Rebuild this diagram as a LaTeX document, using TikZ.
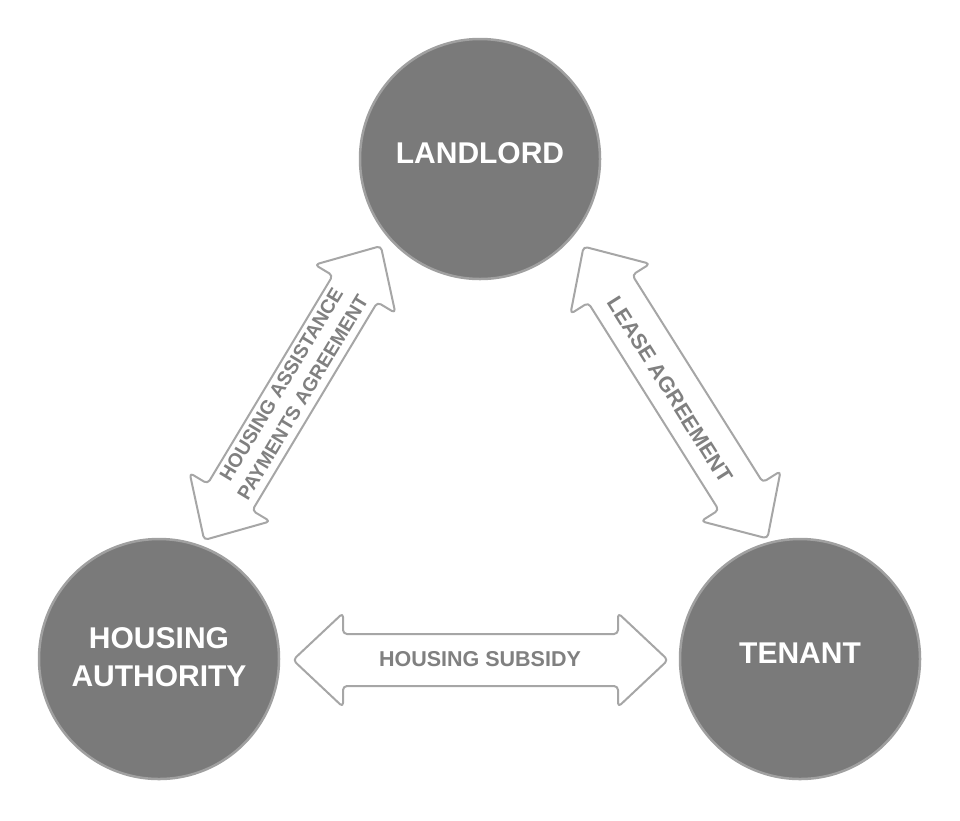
\documentclass[tikz,border=0pt]{standalone}
\usepackage{fontspec}
\setmainfont{Liberation Sans}
\definecolor{circfill}{RGB}{122,122,122}
\definecolor{circline}{RGB}{160,160,160}
\definecolor{arrline}{RGB}{166,166,166}
\definecolor{arrtext}{RGB}{128,128,128}
\newcommand{\blockarrow}[3]{%
  \begin{scope}[shift={#1}, rotate=#2]
    \draw[arrowbox] (-#3/2,0) -- (-#3/2+50,47) -- (-#3/2+50,26) -- (#3/2-50,26)
      -- (#3/2-50,47) -- (#3/2,0) -- (#3/2-50,-47) -- (#3/2-50,-26)
      -- (-#3/2+50,-26) -- (-#3/2+50,-47) -- cycle;
  \end{scope}}
\begin{document}
\begin{tikzpicture}[x=1pt,y=1pt,
  party/.style={circle, minimum size=240pt, inner sep=0pt, fill=circfill,
    draw=circline, line width=2.5pt},
  partytext/.style={text=white, align=center, inner sep=0pt,
    font=\fontsize{30}{38}\selectfont\bfseries},
  arrowbox/.style={draw=arrline, fill=white, line width=2pt, rounded corners=4pt, line join=round},
  arrlabel/.style={text=arrtext, align=center, inner sep=0pt}]
\useasboundingbox (0,0) rectangle (960,-820);
% parties
\node[party] (landlord) at (480,-159) {};
\node[party] (authority) at (159,-659) {};
\node[party] (tenant) at (800,-659) {};
\node[partytext] (landlordtxt) at ([yshift=6pt]landlord.center) {LANDLORD};
\node[partytext] (authoritytxt) at ([yshift=1.5pt]authority.center) {HOUSING\\AUTHORITY};
\node[partytext] (tenanttxt) at ([yshift=6pt]tenant.center) {TENANT};
% block arrows
\blockarrow{(292.5,-393)}{59}{343}
\blockarrow{(675.5,-392.5)}{-57.8}{345}
\blockarrow{(480.5,-660)}{0}{375}
% labels
\node[arrlabel, rotate=59, font=\fontsize{19.5}{25}\selectfont\bfseries] (hapa) at (292,-391)
  {HOUSING ASSISTANCE\\PAYMENTS AGREEMENT};
\node[arrlabel, rotate=-57.8, font=\fontsize{21.5}{26}\selectfont\bfseries] (lease) at (670,-390)
  {LEASE AGREEMENT};
\node[arrlabel, font=\fontsize{21.5}{26}\selectfont\bfseries] (subsidy) at (480,-659)
  {HOUSING SUBSIDY};
\end{tikzpicture}
\end{document}
